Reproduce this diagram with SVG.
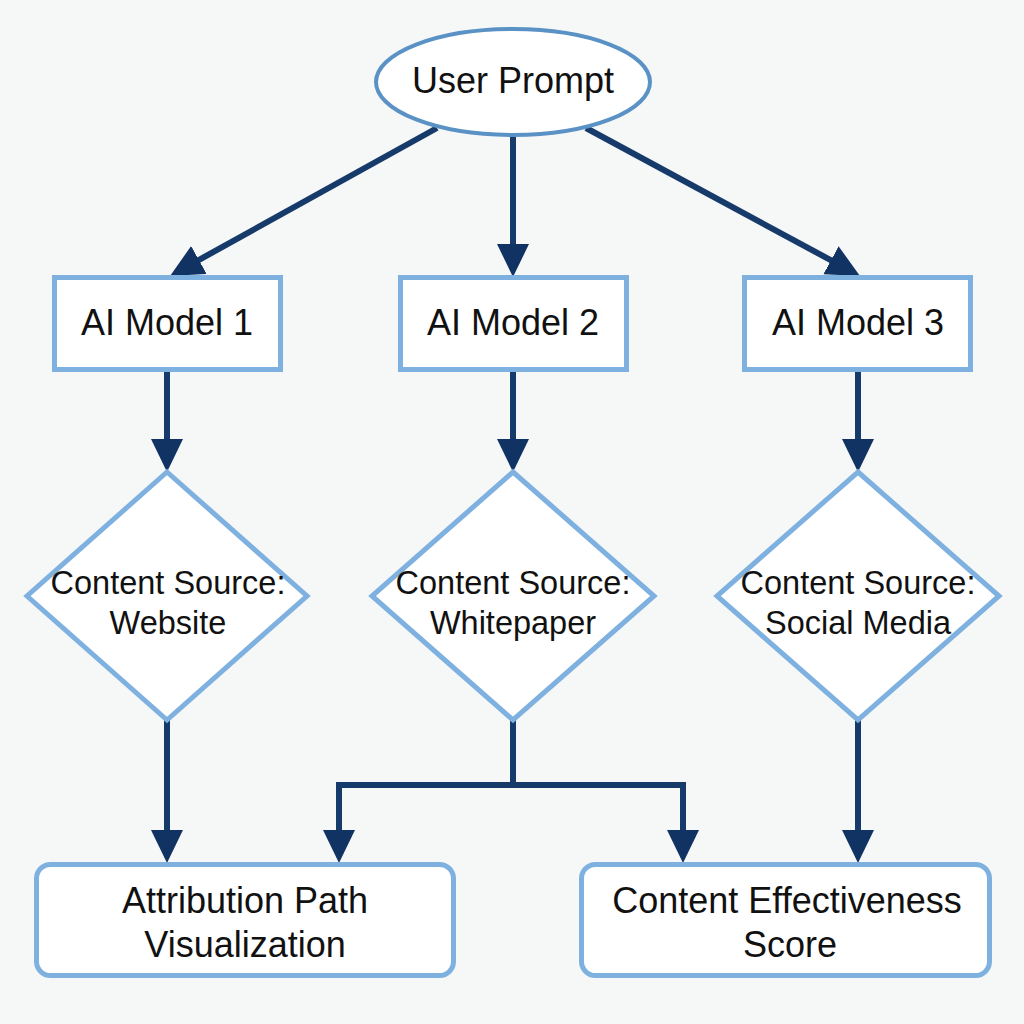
<svg xmlns="http://www.w3.org/2000/svg" width="1024" height="1024" viewBox="0 0 1024 1024">
  <defs>
    <style>
      .node { fill: #ffffff; stroke: #7eb1df; stroke-width: 5; }
      .ell { fill: #ffffff; stroke: #5a92c6; stroke-width: 4; }
      .lbl { font-family: "Liberation Sans", Arial, sans-serif; fill: #111111; text-anchor: middle; }
      .big { font-size: 36px; }
      .mid { font-size: 32.5px; }
      .conn { fill: none; stroke: #163a6a; stroke-width: 6; stroke-linejoin: miter; }
    </style>
    <marker id="arrow" markerUnits="userSpaceOnUse" markerWidth="36" markerHeight="34" refX="23" refY="16" orient="auto">
      <path d="M0,0 L33,16 L0,32 z" fill="#113364"/>
    </marker>
  </defs>

  <rect x="0" y="0" width="1024" height="1024" fill="#f6f7f7"/>

  <g id="connectors">
    <path class="conn" d="M437,128 L178.8,271.1" marker-end="url(#arrow)"/>
    <path class="conn" d="M513,137 L513,267" marker-end="url(#arrow)"/>
    <path class="conn" d="M586,128 L851.2,271.2" marker-end="url(#arrow)"/>
    <path class="conn" d="M167,369 L167,462" marker-end="url(#arrow)"/>
    <path class="conn" d="M513,369 L513,462" marker-end="url(#arrow)"/>
    <path class="conn" d="M858,369 L858,462" marker-end="url(#arrow)"/>
    <path class="conn" d="M167,720 L167,853" marker-end="url(#arrow)"/>
    <path class="conn" d="M513,720 V785 H339 V853" marker-end="url(#arrow)"/>
    <path class="conn" d="M513,785 H683 V853" marker-end="url(#arrow)"/>
    <path class="conn" d="M858,720 L858,853" marker-end="url(#arrow)"/>
  </g>

  <g id="user-prompt">
    <ellipse class="ell" cx="513" cy="82" rx="137" ry="53"/>
    <text class="lbl big" x="513" y="93">User Prompt</text>
  </g>

  <g id="ai-model-1">
    <rect class="node" x="54.5" y="277.5" width="226" height="92"/>
    <text class="lbl big" x="167" y="335">AI Model 1</text>
  </g>
  <g id="ai-model-2">
    <rect class="node" x="400.5" y="277.5" width="226" height="92"/>
    <text class="lbl big" x="513" y="335">AI Model 2</text>
  </g>
  <g id="ai-model-3">
    <rect class="node" x="744.5" y="277.5" width="226" height="92"/>
    <text class="lbl big" x="858" y="335">AI Model 3</text>
  </g>

  <g id="source-website">
    <polygon class="node" points="167,472 307,596 167,720 27,596"/>
    <text class="lbl mid" x="168" y="594">Content Source:</text>
    <text class="lbl mid" x="168" y="634">Website</text>
  </g>
  <g id="source-whitepaper">
    <polygon class="node" points="513,472 654,596 513,720 372,596"/>
    <text class="lbl mid" x="513" y="594">Content Source:</text>
    <text class="lbl mid" x="513" y="634">Whitepaper</text>
  </g>
  <g id="source-social">
    <polygon class="node" points="858,472 999,596 858,720 717,596"/>
    <text class="lbl mid" x="858" y="594">Content Source:</text>
    <text class="lbl mid" x="858" y="634">Social Media</text>
  </g>

  <g id="attribution-path">
    <rect class="node" x="36.5" y="864.5" width="417" height="111" rx="14" ry="14"/>
    <text class="lbl big" x="245" y="913">Attribution Path</text>
    <text class="lbl big" x="245" y="957">Visualization</text>
  </g>
  <g id="effectiveness-score">
    <rect class="node" x="581.5" y="864.5" width="408" height="111" rx="14" ry="14"/>
    <text class="lbl big" x="787" y="913">Content Effectiveness</text>
    <text class="lbl big" x="790" y="957">Score</text>
  </g>
</svg>
